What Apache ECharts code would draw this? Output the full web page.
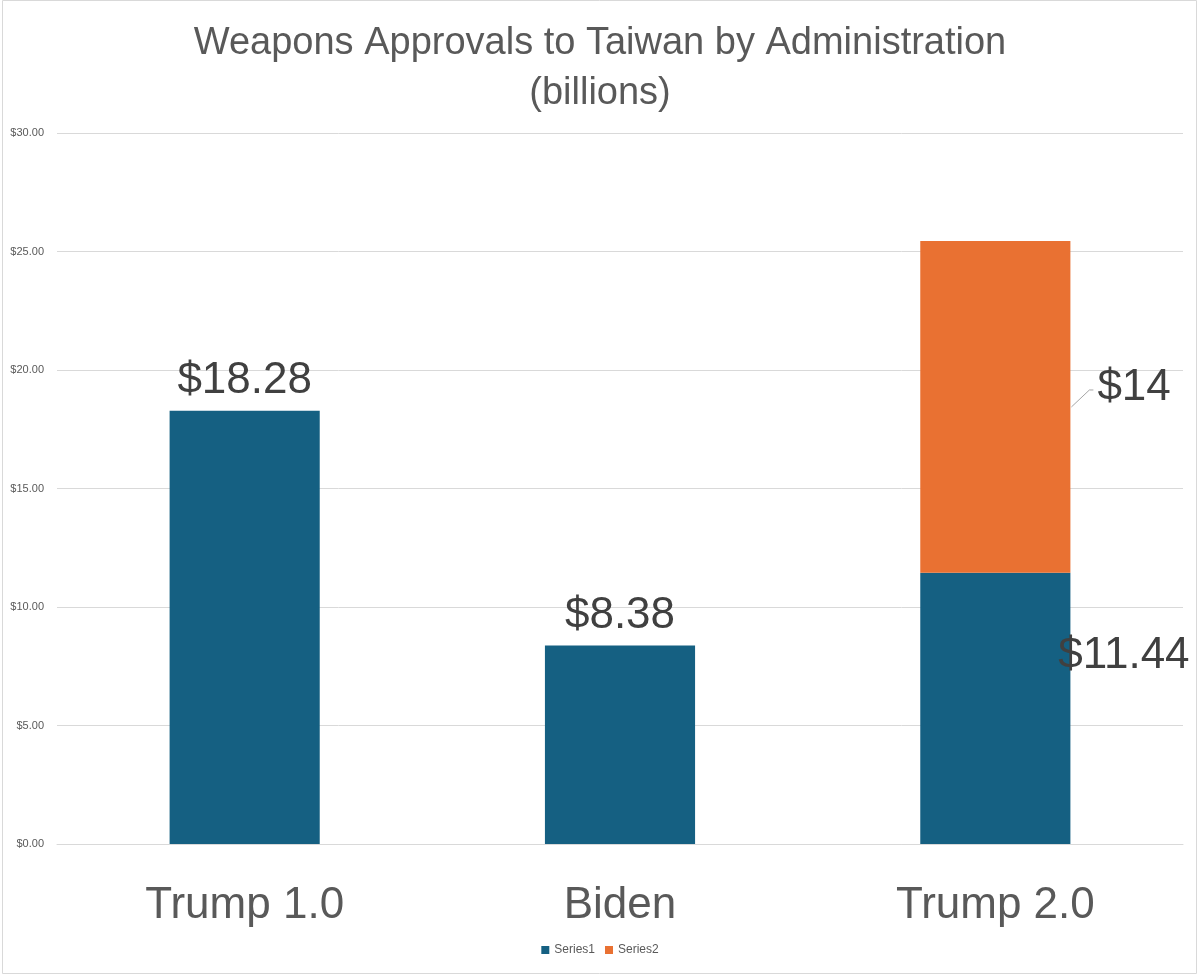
<!DOCTYPE html>
<html>
<head>
<meta charset="utf-8">
<script src="https://cdn.jsdelivr.net/npm/echarts@6/dist/echarts.min.js"></script>
<style>
  html, body { margin: 0; padding: 0; background: #fff; }
  #main { width: 1200px; height: 975px; }
</style>
</head>
<body>
<div id="main"></div>
<script>
// data
var categories = ['Trump 1.0', 'Biden', 'Trump 2.0'];
var series1 = [18.28, 8.38, 11.44];
var series2 = [null, null, 14];
var yTicks = { min: 0, max: 30, interval: 5 };

var labelFont = 'Liberation Sans, Arial, sans-serif';

var s1data = series1.map(function(v, i) {
	if (i == 2) {
		// Excel put this one off to the right, over the bar edge
		return {
			value: v,
			label: { position: [138, 83], align: 'left', verticalAlign: 'middle' }
		};
	}
	return v;
});

var myChart = echarts.init(document.getElementById('main'));
myChart.setOption({
	backgroundColor: '#fff',
	animation: false,
	textStyle: { fontFamily: labelFont },
	title: {
		text: 'Weapons Approvals to Taiwan by Administration\n(billions)',
		left: 'center',
		top: 14,
		textStyle: {
			fontFamily: labelFont,
			fontSize: 38,
			fontWeight: 'normal',
			color: '#595959',
			lineHeight: 50
		}
	},
	legend: {
		bottom: 14,
		left: 'center',
		itemWidth: 8,
		itemHeight: 8,
		itemGap: 10,
		icon: 'rect',
		textStyle: { fontSize: 12, color: '#595959' },
		data: ['Series1', 'Series2']
	},
	grid: {
		left: 57,
		right: 17,
		top: 133,
		bottom: 131,
		containLabel: false
	},
	xAxis: {
		type: 'category',
		data: categories,
		axisLine: { lineStyle: { color: '#d9d9d9' } },
		axisTick: { show: false },
		axisLabel: {
			margin: 40,
			fontSize: 44,
			color: '#595959'
		}
	},
	yAxis: {
		type: 'value',
		min: yTicks.min,
		max: yTicks.max,
		interval: yTicks.interval,
		axisLine: { show: false },
		axisTick: { show: false },
		splitLine: { lineStyle: { color: '#d9d9d9' } },
		axisLabel: {
			margin: 13,
			fontSize: 11,
			color: '#595959',
			formatter: function(v) {
				return '$' + v.toFixed(2);
			}
		}
	},
	series: [{
		name: 'Series1',
		type: 'bar',
		stack: 'total',
		barWidth: '40%',
		itemStyle: { color: '#156082' },
		label: {
			show: true,
			position: 'top',
			distance: 8,
			fontSize: 44,
			color: '#404040',
			formatter: function(p) {
				return '$' + p.value.toFixed(2);
			}
		},
		data: s1data
	}, {
		name: 'Series2',
		type: 'bar',
		stack: 'total',
		barWidth: '40%',
		itemStyle: { color: '#E97132' },
		label: {
			show: true,
			position: 'right',
			distance: 27,
			fontSize: 44,
			color: '#404040',
			formatter: function(p) {
				return '$' + p.value;
			}
		},
		labelLayout: function(p) {
			return { dy: -19 };
		},
		data: series2
	}],
	graphic: [{
		type: 'rect',
		shape: { x: 2.5, y: 0.5, width: 1194, height: 973 },
		style: { fill: 'none', stroke: '#d9d9d9', lineWidth: 1 },
		silent: true
	}]
});

// leader line for the $14 label, placed from the bar's own pixel position
var i2 = 2;
var mid = series1[i2] + series2[i2] / 2;
var pc = myChart.convertToPixel({ seriesIndex: 1 }, [i2, mid]);
var p0 = myChart.convertToPixel({ seriesIndex: 1 }, [0, mid]);
var p1 = myChart.convertToPixel({ seriesIndex: 1 }, [1, mid]);
var halfBar = (p1[0] - p0[0]) * 0.4 / 2;
var x0 = pc[0] + halfBar + 1;
var y0 = pc[1];
myChart.setOption({
	graphic: [{
		type: 'rect',
		shape: { x: 2.5, y: 0.5, width: 1194, height: 973 },
		style: { fill: 'none', stroke: '#d9d9d9', lineWidth: 1 },
		silent: true
	}, {
		type: 'polyline',
		shape: { points: [[x0, y0], [x0 + 18, y0 - 17], [x0 + 22, y0 - 17]] },
		style: { fill: 'none', stroke: '#a6a6a6', lineWidth: 1 },
		silent: true
	}]
});
</script>
</body>
</html>
